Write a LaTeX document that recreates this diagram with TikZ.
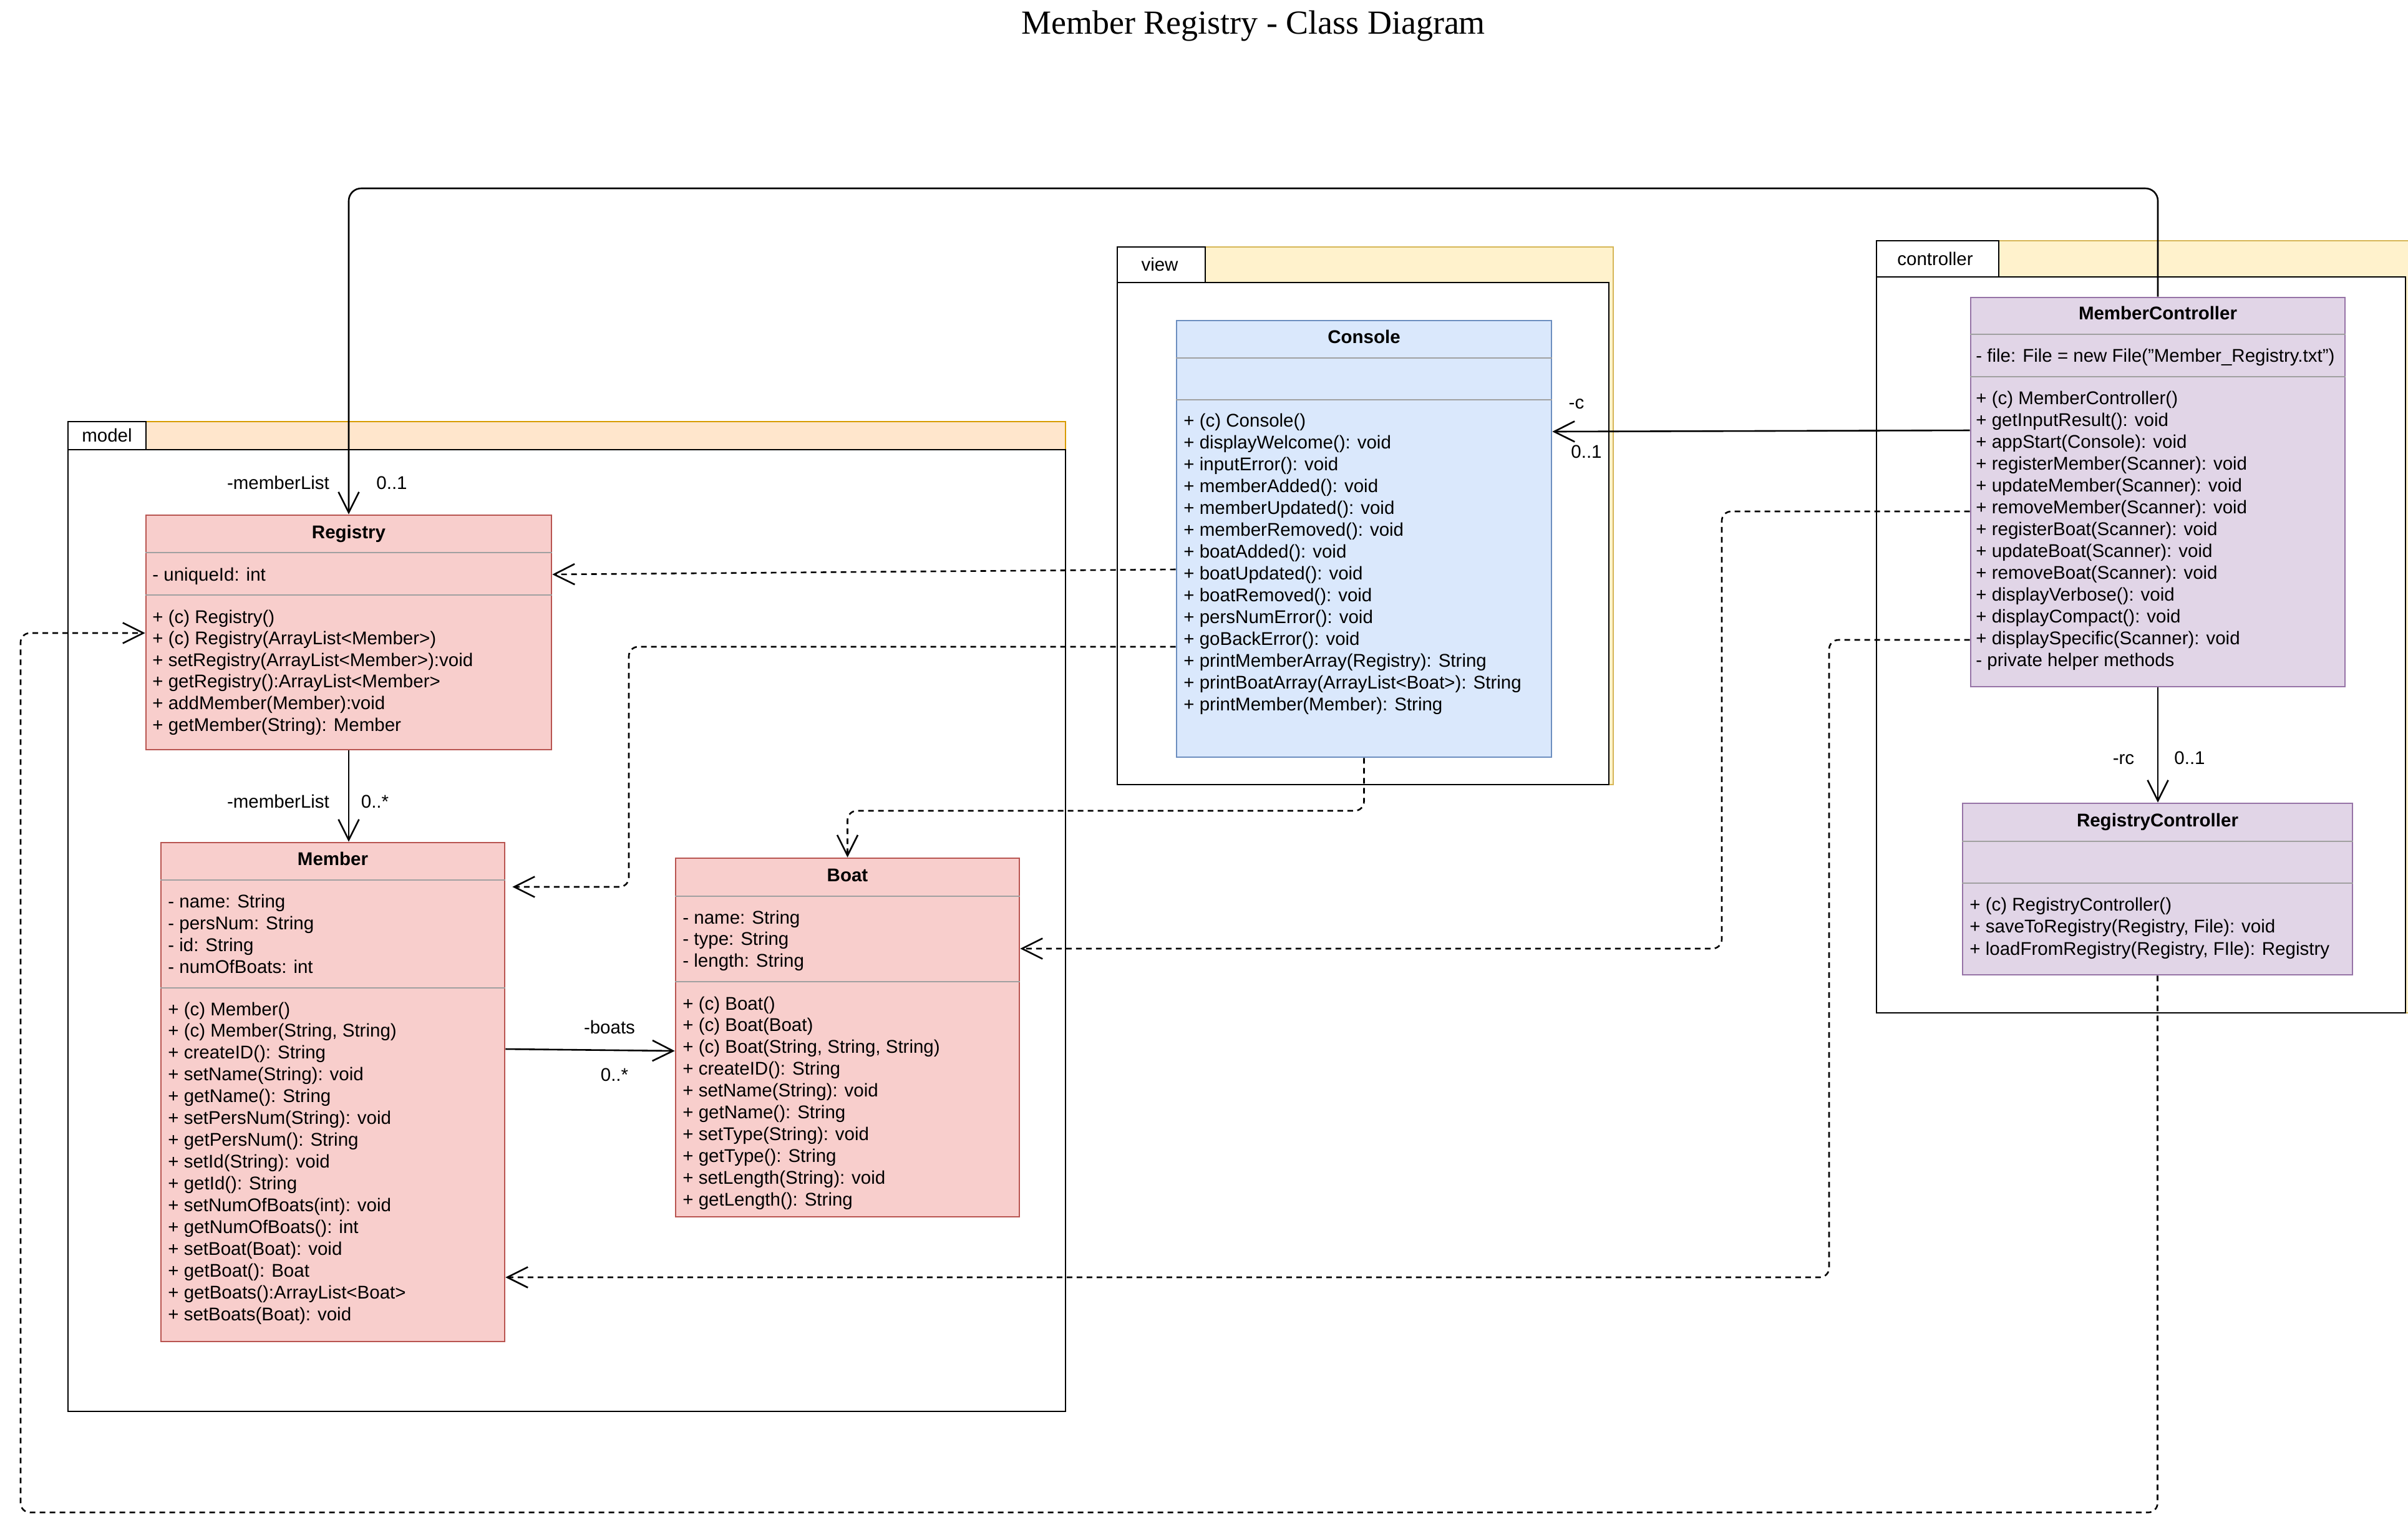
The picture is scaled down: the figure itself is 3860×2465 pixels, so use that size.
\documentclass[tikz,border=0pt]{standalone}
\usepackage{fontspec}
\setmainfont{Liberation Sans}
\newfontfamily\ttlfont{Liberation Serif}
\usetikzlibrary{arrows.meta,fit}

\definecolor{redfill}{HTML}{F8CECC}
\definecolor{redline}{HTML}{B85450}
\definecolor{bluefill}{HTML}{DAE8FC}
\definecolor{blueline}{HTML}{6C8EBF}
\definecolor{purfill}{HTML}{E1D5E7}
\definecolor{purline}{HTML}{9673A6}
\definecolor{orfill}{HTML}{FFE6CC}
\definecolor{orline}{HTML}{D79B00}
\definecolor{yefill}{HTML}{FFF2CC}
\definecolor{yeline}{HTML}{D6B656}
\definecolor{sepgray}{HTML}{A0A0A0}

\begin{document}
\begin{tikzpicture}[x=0.5pt,y=-0.5pt,
  txt/.style={font=\fontsize{14.75}{17.5}\selectfont, inner sep=0pt, anchor=base west},
  ttl/.style={font=\fontsize{14.75}{17.5}\selectfont\bfseries, inner sep=0pt, anchor=base},
  lbl/.style={font=\fontsize{14.75}{17.5}\selectfont, inner sep=0pt, anchor=base},
  clsbox/.style={inner sep=0pt, line width=1.3pt},
  redcls/.style={clsbox, draw=redline, fill=redfill},
  bluecls/.style={clsbox, draw=blueline, fill=bluefill},
  purcls/.style={clsbox, draw=purline, fill=purfill},
  sepline/.style={draw=sepgray, line width=1.2pt},
  pkgbody/.style={inner sep=0pt, draw=black, fill=white, line width=1.3pt},
  assoc/.style={line width=1.3pt, -{Straight Barb[length=16.5pt,width=16.5pt,line width=1.3pt]}},
  dep/.style={assoc, dash pattern=on 4.5pt off 3.5pt, rounded corners=7.5pt},
]
\useasboundingbox (0,0) rectangle (3860,2465);

% title
\node[font=\ttlfont\fontsize{27}{32}\selectfont, inner sep=0pt, anchor=base] (title) at (2009,54) {Member Registry - Class Diagram};

% ---------- packages ----------
\node[fit={(109,676)(1708,2263)}, inner sep=0pt, draw=orline, fill=orfill, line width=1.3pt] (pkgm) {};
\node[pkgbody, fit={(109,721)(1708,2263)}] (pkgmbody) {};
\node[pkgbody, fit={(109,676)(234,721)}] (pkgmtab) {};
\node[lbl] (pkgmlbl) at (171.5,708.5) {model};

\node[fit={(1791,396)(2586,1258)}, inner sep=0pt, draw=yeline, fill=yefill, line width=1.3pt] (pkgv) {};
\node[pkgbody, fit={(1791,453)(2579,1258)}] (pkgvbody) {};
\node[pkgbody, fit={(1791,396)(1932,453)}] (pkgvtab) {};
\node[lbl] (pkgvlbl) at (1859,434) {view};

\node[fit={(3008,386)(3864,1624)}, inner sep=0pt, draw=yeline, fill=yefill, line width=1.3pt] (pkgc) {};
\node[pkgbody, fit={(3008,444)(3856,1624)}] (pkgcbody) {};
\node[pkgbody, fit={(3008,386)(3204,444)}] (pkgctab) {};
\node[lbl] (pkgclbl) at (3102,425) {controller};

% ---------- Registry ----------
\node[redcls, fit={(234,826)(884,1202)}] (reg) {};
\draw[sepline] (reg.west |- 0,886) -- (reg.east |- 0,886);
\draw[sepline] (reg.west |- 0,954) -- (reg.east |- 0,954);
\node[ttl] (regt) at (559,863) {Registry};
\node[txt] (rega1) at (244,931) {- uniqueId: int};
\foreach \lin [count=\i] in {{+ (c) Registry()},{+ (c) Registry(ArrayList<Member>)},{+ setRegistry(ArrayList<Member>):void},{+ getRegistry():ArrayList<Member>},{+ addMember(Member):void},{+ getMember(String): Member}}
  \node[txt] (regm\i) at ({244},{999+(\i-1)*34.6}) {\lin};

% ---------- Member ----------
\node[redcls, fit={(258,1351)(809,2151)}] (mem) {};
\draw[sepline] (mem.west |- 0,1411) -- (mem.east |- 0,1411);
\draw[sepline] (mem.west |- 0,1584) -- (mem.east |- 0,1584);
\node[ttl] (memt) at (533.5,1387) {Member};
\foreach \lin [count=\i] in {{- name: String},{- persNum: String},{- id: String},{- numOfBoats: int}}
  \node[txt] (mema\i) at ({269},{1455+(\i-1)*35}) {\lin};
\foreach \lin [count=\i] in {{+ (c) Member()},{+ (c) Member(String, String)},{+ createID(): String},{+ setName(String): void},{+ getName(): String},{+ setPersNum(String): void},{+ getPersNum(): String},{+ setId(String): void},{+ getId(): String},{+ setNumOfBoats(int): void},{+ getNumOfBoats(): int},{+ setBoat(Boat): void},{+ getBoat(): Boat},{+ getBoats():ArrayList<Boat>},{+ setBoats(Boat): void}}
  \node[txt] (memm\i) at ({269},{1628+(\i-1)*34.93}) {\lin};

% ---------- Boat ----------
\node[redcls, fit={(1083,1376)(1634,1951)}] (boat) {};
\draw[sepline] (boat.west |- 0,1437) -- (boat.east |- 0,1437);
\draw[sepline] (boat.west |- 0,1574) -- (boat.east |- 0,1574);
\node[ttl] (boatt) at (1358.5,1413) {Boat};
\foreach \lin [count=\i] in {{- name: String},{- type: String},{- length: String}}
  \node[txt] (boata\i) at ({1094},{1481+(\i-1)*34.5}) {\lin};
\foreach \lin [count=\i] in {{+ (c) Boat()},{+ (c) Boat(Boat)},{+ (c) Boat(String, String, String)},{+ createID(): String},{+ setName(String): void},{+ getName(): String},{+ setType(String): void},{+ getType(): String},{+ setLength(String): void},{+ getLength(): String}}
  \node[txt] (boatm\i) at ({1094},{1619+(\i-1)*34.9}) {\lin};

% ---------- Console ----------
\node[bluecls, fit={(1886,514)(2487,1214)}] (con) {};
\draw[sepline] (con.west |- 0,574) -- (con.east |- 0,574);
\draw[sepline] (con.west |- 0,641) -- (con.east |- 0,641);
\node[ttl] (cont) at (2186.5,550) {Console};
\foreach \lin [count=\i] in {{+ (c) Console()},{+ displayWelcome(): void},{+ inputError(): void},{+ memberAdded(): void},{+ memberUpdated(): void},{+ memberRemoved(): void},{+ boatAdded(): void},{+ boatUpdated(): void},{+ boatRemoved(): void},{+ persNumError(): void},{+ goBackError(): void},{+ printMemberArray(Registry): String},{+ printBoatArray(ArrayList<Boat>): String},{+ printMember(Member): String}}
  \node[txt] (conm\i) at ({1897},{684.5+(\i-1)*34.96}) {\lin};

% ---------- MemberController ----------
\node[purcls, fit={(3159,477)(3759,1101)}] (mc) {};
\draw[sepline] (mc.west |- 0,536) -- (mc.east |- 0,536);
\draw[sepline] (mc.west |- 0,604) -- (mc.east |- 0,604);
\node[ttl] (mct) at (3459,512) {MemberController};
\node[txt] (mca1) at (3167,580) {- file: File = new File("Member\_Registry.txt")};
\foreach \lin [count=\i] in {{+ (c) MemberController()},{+ getInputResult(): void},{+ appStart(Console): void},{+ registerMember(Scanner): void},{+ updateMember(Scanner): void},{+ removeMember(Scanner): void},{+ registerBoat(Scanner): void},{+ updateBoat(Scanner): void},{+ removeBoat(Scanner): void},{+ displayVerbose(): void},{+ displayCompact(): void},{+ displaySpecific(Scanner): void},{- private helper methods}}
  \node[txt] (mcm\i) at ({3167},{648+(\i-1)*35}) {\lin};

% ---------- RegistryController ----------
\node[purcls, fit={(3146,1288)(3771,1563)}] (rc) {};
\draw[sepline] (rc.west |- 0,1349) -- (rc.east |- 0,1349);
\draw[sepline] (rc.west |- 0,1416) -- (rc.east |- 0,1416);
\node[ttl] (rct) at (3458.5,1325) {RegistryController};
\foreach \lin [count=\i] in {{+ (c) RegistryController()},{+ saveToRegistry(Registry, File): void},{+ loadFromRegistry(Registry, FIle): Registry}}
  \node[txt] (rcm\i) at ({3157},{1460+(\i-1)*35.5}) {\lin};

% ---------- associations ----------
\draw[assoc, rounded corners=10pt] (mc.north) |- (reg.north |- 0,302) -- (reg.north);
\node[lbl] (l1) at (446,784) {-memberList};
\node[lbl] (l2) at (628,784) {0..1};

\draw[assoc] (reg.south) -- (reg.south |- mem.north);
\node[lbl] (l3) at (446,1295) {-memberList};
\node[lbl] (l4) at (601,1295) {0..*};

\draw[assoc] (mem.east |- 0,1682) -- (boat.west |- 0,1685);
\node[lbl] (l5) at (977,1657) {-boats};
\node[lbl] (l6) at (985,1733) {0..*};

\draw[assoc] (mc.west |- 0,690) -- (con.east |- 0,692);
\node[lbl] (l7) at (2527,655) {-c};
\node[lbl] (l8) at (2543,734) {0..1};

\draw[assoc] (mc.south) -- (mc.south |- rc.north);
\node[lbl] (l9) at (3404,1225) {-rc};
\node[lbl] (l10) at (3510,1225) {0..1};

% ---------- dependencies ----------
\draw[dep] (con.west |- 0,913) -- (reg.east |- 0,921);
\draw[dep, shorten >=5.5pt] (con.west |- 0,1037) -| (1008,1422) -- (mem.east |- 0,1422);
\draw[dep] (con.south) |- (boat.north |- 0,1300) -- (boat.north);
\draw[dep] (mc.west |- 0,820) -| (2760,1521) -- (boat.east |- 0,1521);
\draw[dep] (mc.west |- 0,1026) -| (2932,2048) -- (mem.east |- 0,2048);
\draw[dep] (rc.south) |- (33,2425) |- (reg.west |- 0,1015);

\end{tikzpicture}
\end{document}
